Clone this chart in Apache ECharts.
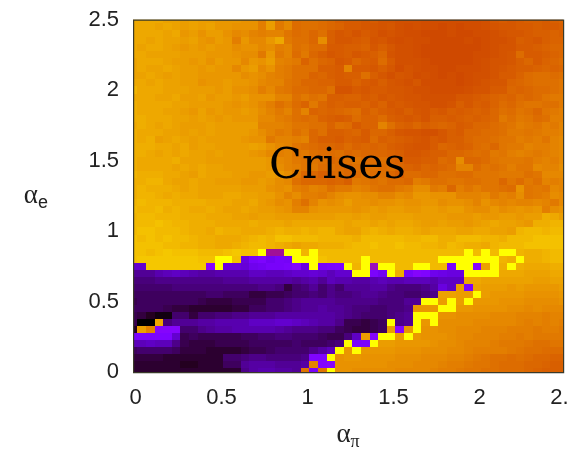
<!DOCTYPE html>
<html><head><meta charset="utf-8">
<style>html,body{margin:0;padding:0;background:#fff;overflow:hidden}#c{width:573px;height:449px}</style>
<script src="https://cdn.jsdelivr.net/npm/echarts@6/dist/echarts.min.js"></script>
</head><body><div id="c"></div>
<script>
// alpha_e rows from 2.5 (top) to 0 (bottom); columns are alpha_pi = 0 .. 2.5 in steps of 0.05
const xTicks = [0, 0.5, 1, 1.5, 2, 2.5];
const yTicks = [0, 0.5, 1, 1.5, 2, 2.5];
const gridStep = 0.05;
const crisisRows = [
[87,87,87,87,86,86,85,86,85,85, 84,84,84,83,83,79,85,78,81,75, 76,76,75,74,72,71,71,70,71,69, 69,68,68,68,67,67,67,67,67,67, 67,68,70,71,70,71,72,72,71,72, 73],
[87,87,87,86,87,86,85,86,85,86, 84,84,83,83,83,79,85,78,81,75, 76,76,75,74,73,71,71,70,70,69, 70,68,67,68,67,67,66,67,66,67, 67,68,69,70,70,71,71,72,71,71, 72],
[87,87,87,87,86,87,84,85,83,85, 85,83,81,82,80,79,80,80,77,75, 76,74,76,72,70,71,69,71,70,68, 69,68,67,67,66,66,66,67,66,66, 67,67,68,69,70,70,71,72,72,73, 72],
[87,87,86,87,86,86,85,86,84,83, 85,84,79,84,81,81,84,87,78,76, 76,74,82,72,70,70,71,72,69,70, 68,67,68,67,67,66,66,66,66,67, 66,67,68,68,69,72,71,70,72,73, 73],
[87,86,87,87,86,85,84,85,84,85, 84,84,82,83,83,81,82,79,80,76, 77,75,75,71,71,72,72,73,70,72, 70,68,68,67,66,66,66,66,66,66, 66,67,68,69,69,71,71,72,73,74, 74],
[87,87,86,86,86,86,85,85,85,84, 84,84,83,82,82,78,84,78,80,75, 78,74,72,70,71,72,70,71,72,74, 69,68,68,67,66,66,66,66,66,66, 67,67,68,69,70,75,71,71,72,73, 74],
[86,87,87,87,86,85,85,84,85,83, 85,84,84,81,84,83,85,80,79,78, 73,76,74,73,70,71,74,72,71,75, 71,68,68,68,67,66,66,66,66,66, 67,68,69,69,70,72,74,71,73,74, 75],
[86,87,86,86,87,86,85,85,84,85, 84,84,81,84,85,81,83,79,78,76, 76,76,72,72,71,80,71,71,70,72, 70,67,69,68,67,67,66,66,67,67, 67,68,69,70,71,72,72,73,74,73, 74],
[86,86,87,86,85,86,85,85,84,84, 84,84,84,82,83,82,80,79,78,76, 76,73,74,72,71,72,72,76,72,70, 68,70,69,67,68,67,66,67,66,67, 68,68,69,71,71,73,75,76,76,75, 76],
[87,87,86,87,86,86,85,85,83,84, 84,85,84,84,83,81,80,80,77,76, 74,74,73,73,71,71,73,71,70,72, 70,69,68,70,67,67,67,67,66,67, 68,69,70,70,73,74,75,76,76,76, 77],
[89,87,87,87,86,86,86,85,85,85, 84,85,83,83,82,79,81,78,77,75, 75,74,74,76,69,69,71,70,71,71, 70,70,69,68,68,67,67,67,67,68, 69,69,71,71,74,73,74,75,75,76, 77],
[87,87,87,86,86,87,85,85,86,84, 85,85,84,85,83,83,83,80,80,76, 78,76,77,72,72,73,73,71,72,70, 71,70,69,69,68,68,68,68,70,70, 71,72,73,74,73,75,74,75,77,78, 78],
[88,87,87,87,87,86,86,85,85,85, 85,84,83,84,83,81,79,76,78,75, 73,78,74,72,73,72,72,73,71,73, 70,71,70,69,69,68,68,69,72,70, 72,71,73,75,74,76,77,77,76,76, 78],
[88,87,87,87,86,86,85,84,86,84, 85,84,84,85,84,82,80,78,80,76, 80,73,74,73,74,75,76,72,74,72, 71,70,72,70,69,71,70,72,71,72, 73,72,74,76,75,77,76,74,77,78, 79],
[88,88,87,87,87,86,86,85,86,85, 84,85,84,84,84,81,81,79,78,76, 75,76,73,72,71,72,75,73,73,75, 72,71,70,71,69,72,72,71,72,73, 72,73,74,78,76,78,77,75,76,79, 79],
[87,88,87,86,87,86,85,85,85,86, 85,85,85,85,85,80,80,80,79,77, 77,76,76,73,76,75,71,73,73,80, 76,73,72,74,72,73,74,73,71,72, 74,74,75,76,77,79,78,77,79,78, 80],
[88,87,87,87,86,86,85,86,85,86, 85,85,85,85,84,82,80,78,79,76, 78,74,76,72,72,73,74,71,74,74, 72,70,69,69,68,68,70,72,71,74, 74,75,75,76,78,78,77,78,79,79, 80],
[88,87,88,85,86,87,86,85,86,85, 85,85,85,84,83,83,78,80,80,79, 80,74,72,72,71,73,72,71,75,72, 73,72,71,70,69,71,70,72,72,74, 75,75,76,77,77,79,78,79,77,80, 81],
[88,88,88,87,87,86,87,85,86,86, 85,85,85,85,86,85,83,81,80,77, 76,75,74,74,73,75,73,74,73,74, 72,71,70,69,69,71,74,73,72,73, 75,76,74,77,78,78,80,79,79,80, 81],
[88,88,87,86,87,86,87,86,86,85, 86,85,85,85,84,83,81,79,80,77, 78,76,75,75,76,74,75,74,74,74, 73,72,70,70,71,72,72,74,74,75, 76,75,78,77,79,80,79,78,79,80, 81],
[88,87,87,87,87,88,86,86,86,85, 85,85,85,85,85,85,84,81,80,78, 77,77,76,74,75,76,77,75,75,76, 74,73,71,71,72,72,75,74,82,74, 74,75,77,78,78,78,77,79,80,79, 81],
[88,87,87,87,87,86,87,86,87,86, 86,85,85,85,85,85,84,82,80,79, 77,78,75,76,75,74,76,76,76,75, 76,74,73,72,74,73,74,75,80,80, 75,77,76,77,79,77,77,81,80,80, 82],
[89,88,88,88,87,87,86,85,87,86, 86,86,85,85,84,84,85,84,82,78, 74,74,72,74,75,74,75,77,75,76, 74,72,75,75,74,74,76,76,75,75, 77,77,77,78,78,78,76,77,81,81, 81],
[88,88,89,89,87,86,86,87,86,86, 85,85,85,84,84,85,84,82,81,76, 74,74,74,73,74,72,78,77,76,77, 75,75,74,79,78,76,76,77,77,76, 76,77,77,74,77,75,78,76,80,79, 80],
[88,89,88,88,88,87,86,87,86,86, 86,86,86,85,85,85,83,82,83,79, 78,80,79,76,78,78,80,79,77,76, 76,78,79,82,82,78,79,74,79,77, 79,77,77,76,75,83,77,78,77,81, 80],
[88,89,89,88,87,88,87,87,86,86, 86,87,87,86,86,85,85,83,80,82, 79,79,78,80,82,83,83,82,82,80, 80,82,81,84,84,83,83,83,80,80, 80,81,78,80,79,82,77,78,79,82, 81],
[89,90,89,89,89,88,88,88,88,87, 87,87,86,86,87,85,84,82,83,79, 76,80,83,82,83,85,83,83,82,83, 83,84,83,83,84,84,82,83,83,82, 80,83,81,80,81,80,80,81,80,78, 81],
[90,89,89,90,88,89,88,87,87,88, 87,86,86,87,86,85,85,84,83,80, 80,83,84,84,84,84,83,84,85,84, 85,85,84,84,85,85,84,85,85,83, 82,82,84,82,83,84,83,84,79,82, 83],
[89,90,90,89,89,89,88,88,88,87, 87,87,86,86,85,86,86,85,85,85, 85,85,85,85,86,86,85,86,85,85, 86,86,86,85,85,85,85,84,84,84, 85,84,84,85,85,84,85,85,88,87, 85],
[90,90,90,91,90,89,89,88,88,88, 87,87,87,87,88,87,87,87,86,87, 87,87,87,87,87,86,87,87,86,87, 86,87,87,86,85,85,86,85,85,84, 85,86,87,86,86,85,84,88,88,89, 89],
[90,91,91,90,90,90,89,88,88,87, 89,88,88,87,87,87,88,89,88,88, 89,88,89,89,87,86,86,88,89,88, 87,88,88,87,86,87,87,87,86,86, 87,87,86,86,85,89,90,90,89,90, 90],
[91,90,91,90,91,90,90,89,88,88, 87,87,87,88,89,90,89,91,91,90, 90,90,89,89,89,89,88,90,90,90, 90,90,89,89,90,90,88,88,90,90, 90,89,89,88,90,90,90,91,91,91, 91],
[91,91,91,91,90,90,89,89,88,88, 87,87,88,89,90,90,89,88,87,86, 87,87,88,88,88,89,90,90,91,90, 90,91,90,90,89,89,88,90,89,88, 88,87,89,90,90,90,91,91,91,91, 91],
[91,91,90,91,92,91,91,91,90,90, 90,91,92,91,91,100,40,40,100,100, 89,100,90,90,90,90,90,90,90,90, 90,90,90,90,90,90,90,90,90,100, 90,100,90,100,100,89,88,88,89,90, 90],
[91,92,92,92,92,92,92,92,91,91, 100,100,91,17,22,24,20,22,21,100, 100,100,91,90,90,90,90,100,90,90, 90,90,90,90,90,90,100,100,100,100, 100,100,100,89,88,100,88,88,89,90, 90],
[15,15,92,92,92,92,92,92,92,27, 100,17,17,16,19,20,22,22,23,27, 17,100,22,23,24,100,89,100,37,100, 100,90,90,100,100,90,90,22,100,100, 27,86,100,88,100,88,87,87,87,88, 88],
[10,10,10,12,13,14,13,12,11,11, 12,12,12,12,14,14,13,13,14,15, 15,16,15,13,15,15,100,100,23,20, 100,88,22,27,25,19,18,17,17,100, 100,100,100,87,87,87,86,86,86,87, 87],
[8,8,8,9,9,9,9,9,9,9, 9,10,10,10,11,11,11,11,11,10, 11,12,10,13,12,12,11,11,12,13, 12,12,13,13,13,12,14,14,14,87, 87,86,86,86,86,86,86,85,85,86, 86],
[7,7,7,7,7,8,8,8,8,8, 8,8,8,8,8,9,9,8,4,7, 8,10,7,9,7,10,10,10,11,11, 9,8,8,8,9,11,17,14,85,23, 86,85,85,85,84,85,84,84,84,84, 85],
[6,6,6,6,6,6,6,6,6,7, 7,6,6,6,4,4,5,5,6,7, 7,8,7,9,8,8,9,10,10,9, 8,8,7,7,8,9,86,86,85,85, 100,85,84,84,84,84,83,83,83,83, 84],
[5,6,6,6,6,6,6,6,5,4, 4,4,5,5,5,5,7,7,8,9, 10,10,10,10,9,9,9,9,9,8, 8,8,10,10,100,100,85,100,85,100, 84,84,84,83,83,83,82,82,82,82, 83],
[6,6,6,6,5,4,4,3,3,3, 3,3,4,4,6,6,7,7,8,9, 10,10,11,10,10,9,8,8,7,7, 8,8,9,84,84,84,100,100,84,84, 83,83,83,83,82,82,81,82,81,81, 81],
[5,4,2,1,1,7,7,4,7,7, 8,8,9,9,10,10,10,11,11,11, 11,11,11,11,10,9,8,7,7,7, 8,9,10,100,100,100,83,83,82,82, 82,82,81,81,81,80,80,80,79,80, 80],
[5,0,0,87,8,10,10,10,11,11, 12,12,12,12,14,14,14,15,15,14, 13,12,11,11,9,5,5,4,5,6, 100,9,10,100,84,100,82,82,82,82, 81,81,81,81,81,80,79,80,79,80, 79],
[2,86,80,27,27,27,7,7,9,10, 11,11,12,12,12,12,12,11,10,9, 9,9,8,8,6,5,4,4,5,6, 85,27,84,100,83,83,82,82,81,81, 81,80,80,80,79,79,79,78,79,79, 78],
[22,23,23,24,24,15,5,6,5,5, 5,5,5,6,6,7,7,8,8,7, 7,7,6,5,5,8,14,85,27,100, 100,85,100,84,83,83,83,82,81,81, 80,80,80,79,79,78,79,78,78,78, 78],
[13,13,14,13,13,9,5,4,4,4, 5,5,5,5,6,6,6,6,6,7, 6,6,6,7,8,100,23,23,100,85, 85,84,84,84,84,83,82,82,81,80, 80,80,79,78,78,78,77,76,76,77, 77],
[6,7,7,7,7,6,4,4,4,3, 3,3,3,4,5,5,6,7,7,7, 7,9,11,13,100,84,100,84,84,84, 84,83,83,83,82,82,82,81,81,80, 79,79,79,79,78,77,76,76,75,75, 75],
[4,4,4,4,3,3,3,3,3,3, 3,7,7,8,9,9,8,8,8,8, 9,25,25,100,83,84,84,83,83,83, 83,82,82,82,81,81,81,80,80,79, 78,77,76,76,75,76,75,74,74,73, 73],
[3,3,3,3,3,3,2,2,3,3, 3,6,6,10,11,11,11,10,10,10, 11,80,26,28,83,83,83,83,83,83, 82,82,82,81,81,81,80,79,79,78, 77,77,76,75,75,75,74,74,73,72, 72],
[3,3,3,3,3,3,3,3,3,3, 3,3,3,9,11,12,12,11,11,10, 77,22,77,100,83,83,82,82,82,82, 82,81,81,81,81,80,79,79,78,77, 77,76,76,75,75,75,74,73,72,72, 72]
];

const cells = [];
crisisRows.forEach(function (row, r) {
  row.forEach(function (v, c) {
    cells.push([c * gridStep, (crisisRows.length - 1 - r) * gridStep, v]);
  });
});
function palette(t) {
  const R = Math.round(255 * Math.sqrt(t));
  const G = Math.round(255 * t * t * t);
  const B = Math.round(255 * Math.max(0, Math.sin(2 * Math.PI * t)));
  return 'rgb(' + R + ',' + G + ',' + B + ')';
}
const stops = [];
for (let i = 0; i <= 50; i++) stops.push(palette(i / 50));

const G = {left: 133, top: 19.5, width: 430, height: 352.5};
const labelFont = {fontFamily: '"Liberation Sans", Arial, sans-serif', fontSize: 22, color: '#222'};
const chart = echarts.init(document.getElementById('c'), null, {renderer: 'canvas'});
chart.setOption({
  animation: false,
  backgroundColor: '#fff',
  grid: Object.assign({show: false, containLabel: false, outerBoundsMode: 'none'}, G),
  xAxis: {
    type: 'value', min: 0, max: 2.5, interval: 0.5,
    name: '{a|α}{b|π}', nameLocation: 'middle', nameGap: 47,
    nameTextStyle: {rich: {
      a: {fontFamily: '"Liberation Serif", serif', fontSize: 27, color: '#222'},
      b: {fontFamily: '"Liberation Serif", serif', fontSize: 18, color: '#222', padding: [14, 0, 0, 0]}
    }},
    axisLine: {show: false}, axisTick: {show: false}, splitLine: {show: false},
    axisLabel: Object.assign({margin: 15, padding: [0, 0, 0, 5], hideOverlap: false, showMaxLabel: true, showMinLabel: true}, labelFont)
  },
  yAxis: {
    type: 'value', min: 0, max: 2.5, interval: 0.5,
    name: '{a|α}{b|e}', nameLocation: 'middle', nameRotate: 0, nameGap: 85,
    nameTextStyle: {rich: {
      a: {fontFamily: '"Liberation Serif", serif', fontSize: 27, color: '#222'},
      b: {fontFamily: '"Liberation Sans", sans-serif', fontSize: 18, color: '#222', padding: [14, 0, 0, 0]}
    }},
    axisLine: {show: false}, axisTick: {show: false}, splitLine: {show: false},
    axisLabel: Object.assign({margin: 14, padding: [2, 0, 0, 0], showMaxLabel: true, showMinLabel: true}, labelFont)
  },
  visualMap: {type: 'continuous', show: false, min: 0, max: 100, dimension: 2, seriesIndex: 0, inRange: {color: stops}},
  series: [{
    type: 'custom', coordinateSystem: 'cartesian2d', data: cells, clip: true, progressive: 0,
    encode: {x: 0, y: 1},
    renderItem: function (params, api) {
      const x = api.value(0), y = api.value(1), h = gridStep / 2;
      const a = api.coord([x - h, y + h]), b = api.coord([x + h, y - h]);
      const x0 = Math.round(a[0]), y0 = Math.round(a[1]), x1 = Math.round(b[0]), y1 = Math.round(b[1]);
      const shape = echarts.graphic.clipRectByRect(
        {x: x0, y: y0, width: x1 - x0, height: y1 - y0},
        params.coordSys);
      if (!shape) return null;
      return {type: 'rect', shape: shape, style: {fill: api.visual('color')}};
    }
  }],
  graphic: [
    {type: 'rect', left: G.left, top: G.top, z: 50, shape: {width: G.width, height: G.height},
     style: {fill: 'transparent', stroke: '#3a3a2a', lineWidth: 1.2}},
    {type: 'text', left: 269, top: 145, z: 60,
     style: {text: 'Crises', fill: '#000', font: '43px "DejaVu Serif", serif'}},
    {type: 'rect', left: 568, top: 382, z: 70, shape: {width: 5, height: 30}, style: {fill: '#fff'}}
  ]
});
</script></body></html>
